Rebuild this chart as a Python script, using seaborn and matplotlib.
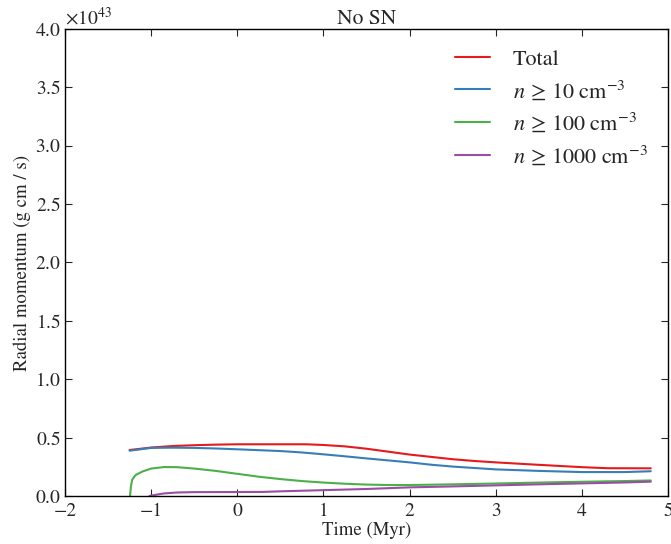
import matplotlib
matplotlib.use("Agg")
import matplotlib.pyplot as plt
import seaborn as sns
import pandas as pd
import numpy as np
from matplotlib.ticker import ScalarFormatter, MultipleLocator

# ---- data (values in units of 1e43 g cm / s) ----
total_t = [-1.25, -1.0, -0.75, -0.5, -0.25, 0.0, 0.5, 0.8, 1.0, 1.25, 1.5, 1.75, 2.0, 2.25, 2.5, 2.75, 3.0, 3.5, 4.0, 4.3, 4.8]
total_p = [0.394, 0.415, 0.428, 0.435, 0.440, 0.443, 0.443, 0.443, 0.437, 0.425, 0.405, 0.38, 0.355, 0.335, 0.315, 0.300, 0.288, 0.267, 0.247, 0.238, 0.237]

n10_t = [-1.25, -1.0, -0.75, -0.5, -0.25, 0.0, 0.5, 0.75, 1.0, 1.25, 1.5, 1.75, 2.0, 2.25, 2.5, 3.0, 3.5, 4.0, 4.5, 4.8]
n10_p = [0.388, 0.412, 0.414, 0.412, 0.407, 0.400, 0.385, 0.373, 0.357, 0.340, 0.322, 0.305, 0.288, 0.268, 0.252, 0.228, 0.215, 0.205, 0.205, 0.212]

n100_t = [-1.245, -1.235, -1.22, -1.18, -1.1, -1.0, -0.85, -0.7, -0.5, -0.25, 0.0, 0.25, 0.5, 0.75, 1.0, 1.25, 1.5, 1.75, 2.0, 2.5, 3.0, 3.5, 4.0, 4.5, 4.8]
n100_p = [0.0, 0.08, 0.14, 0.18, 0.21, 0.235, 0.248, 0.247, 0.235, 0.215, 0.19, 0.165, 0.145, 0.128, 0.115, 0.105, 0.098, 0.094, 0.094, 0.100, 0.107, 0.115, 0.122, 0.128, 0.133]

n1000_t = [-1.02, -0.95, -0.85, -0.7, -0.5, 0.0, 0.3, 0.5, 1.0, 1.5, 2.0, 2.5, 3.0, 3.5, 4.0, 4.5, 4.8]
n1000_p = [0.0, 0.010, 0.022, 0.030, 0.033, 0.034, 0.035, 0.040, 0.050, 0.060, 0.074, 0.082, 0.091, 0.100, 0.108, 0.116, 0.123]

labels = ["Total",
          r"$n\,\geq\,10\ \mathrm{cm}^{-3}$",
          r"$n\,\geq\,100\ \mathrm{cm}^{-3}$",
          r"$n\,\geq\,1000\ \mathrm{cm}^{-3}$"]
colors = ["#e41a1c", "#377eb8", "#4daf4a", "#984ea3"]
SCALE = 1e43

frames = []
for lab, t, p in zip(labels, [total_t, n10_t, n100_t, n1000_t], [total_p, n10_p, n100_p, n1000_p]):
    frames.append(pd.DataFrame({"t": t, "p": np.array(p) * SCALE, "series": lab}))
df = pd.concat(frames, ignore_index=True)

sns.set_style("ticks")
plt.rcParams["font.family"] = ["STIXGeneral", "Liberation Serif", "DejaVu Serif"]
plt.rcParams["mathtext.fontset"] = "stix"
plt.rcParams["xtick.direction"] = "in"
plt.rcParams["ytick.direction"] = "in"
plt.rcParams["xtick.top"] = True
plt.rcParams["ytick.right"] = True

fig = plt.figure(figsize=(6.71, 5.44), dpi=100)
ax = fig.add_axes([65/671, 48/544, 603/671, 467/544])

sns.lineplot(data=df, x="t", y="p", hue="series", hue_order=labels,
             palette=colors, estimator=None, sort=False, linewidth=1.5, ax=ax)

ax.set_xlim(-2, 5)
ax.set_ylim(0, 4.0e43)
ax.xaxis.set_major_locator(MultipleLocator(1))
ax.yaxis.set_major_locator(MultipleLocator(0.5e43))
fmt = ScalarFormatter(useMathText=True)
ax.yaxis.set_major_formatter(fmt)
ax.yaxis.get_offset_text().set_fontsize(14)

for side in ["top", "right", "left", "bottom"]:
    ax.spines[side].set_visible(True)
    ax.spines[side].set_linewidth(1.0)
    ax.spines[side].set_color("black")
ax.tick_params(axis="both", which="major", length=5, width=0.8, labelsize=14,
               direction="in", top=True, right=True, pad=5)
ax.tick_params(axis="y", pad=3)

ax.set_xlabel("Time (Myr)", fontsize=13.5, labelpad=1)
ax.set_ylabel("Radial momentum (g cm / s)", fontsize=13.5, labelpad=3)
ax.set_title("No SN", fontsize=15.5, pad=3)

leg = ax.legend(loc="upper right", frameon=False, fontsize=16, handlelength=1.55,
                handletextpad=1.05, labelspacing=0.4, borderaxespad=0.5)

fig.savefig("out.png", dpi=100)
